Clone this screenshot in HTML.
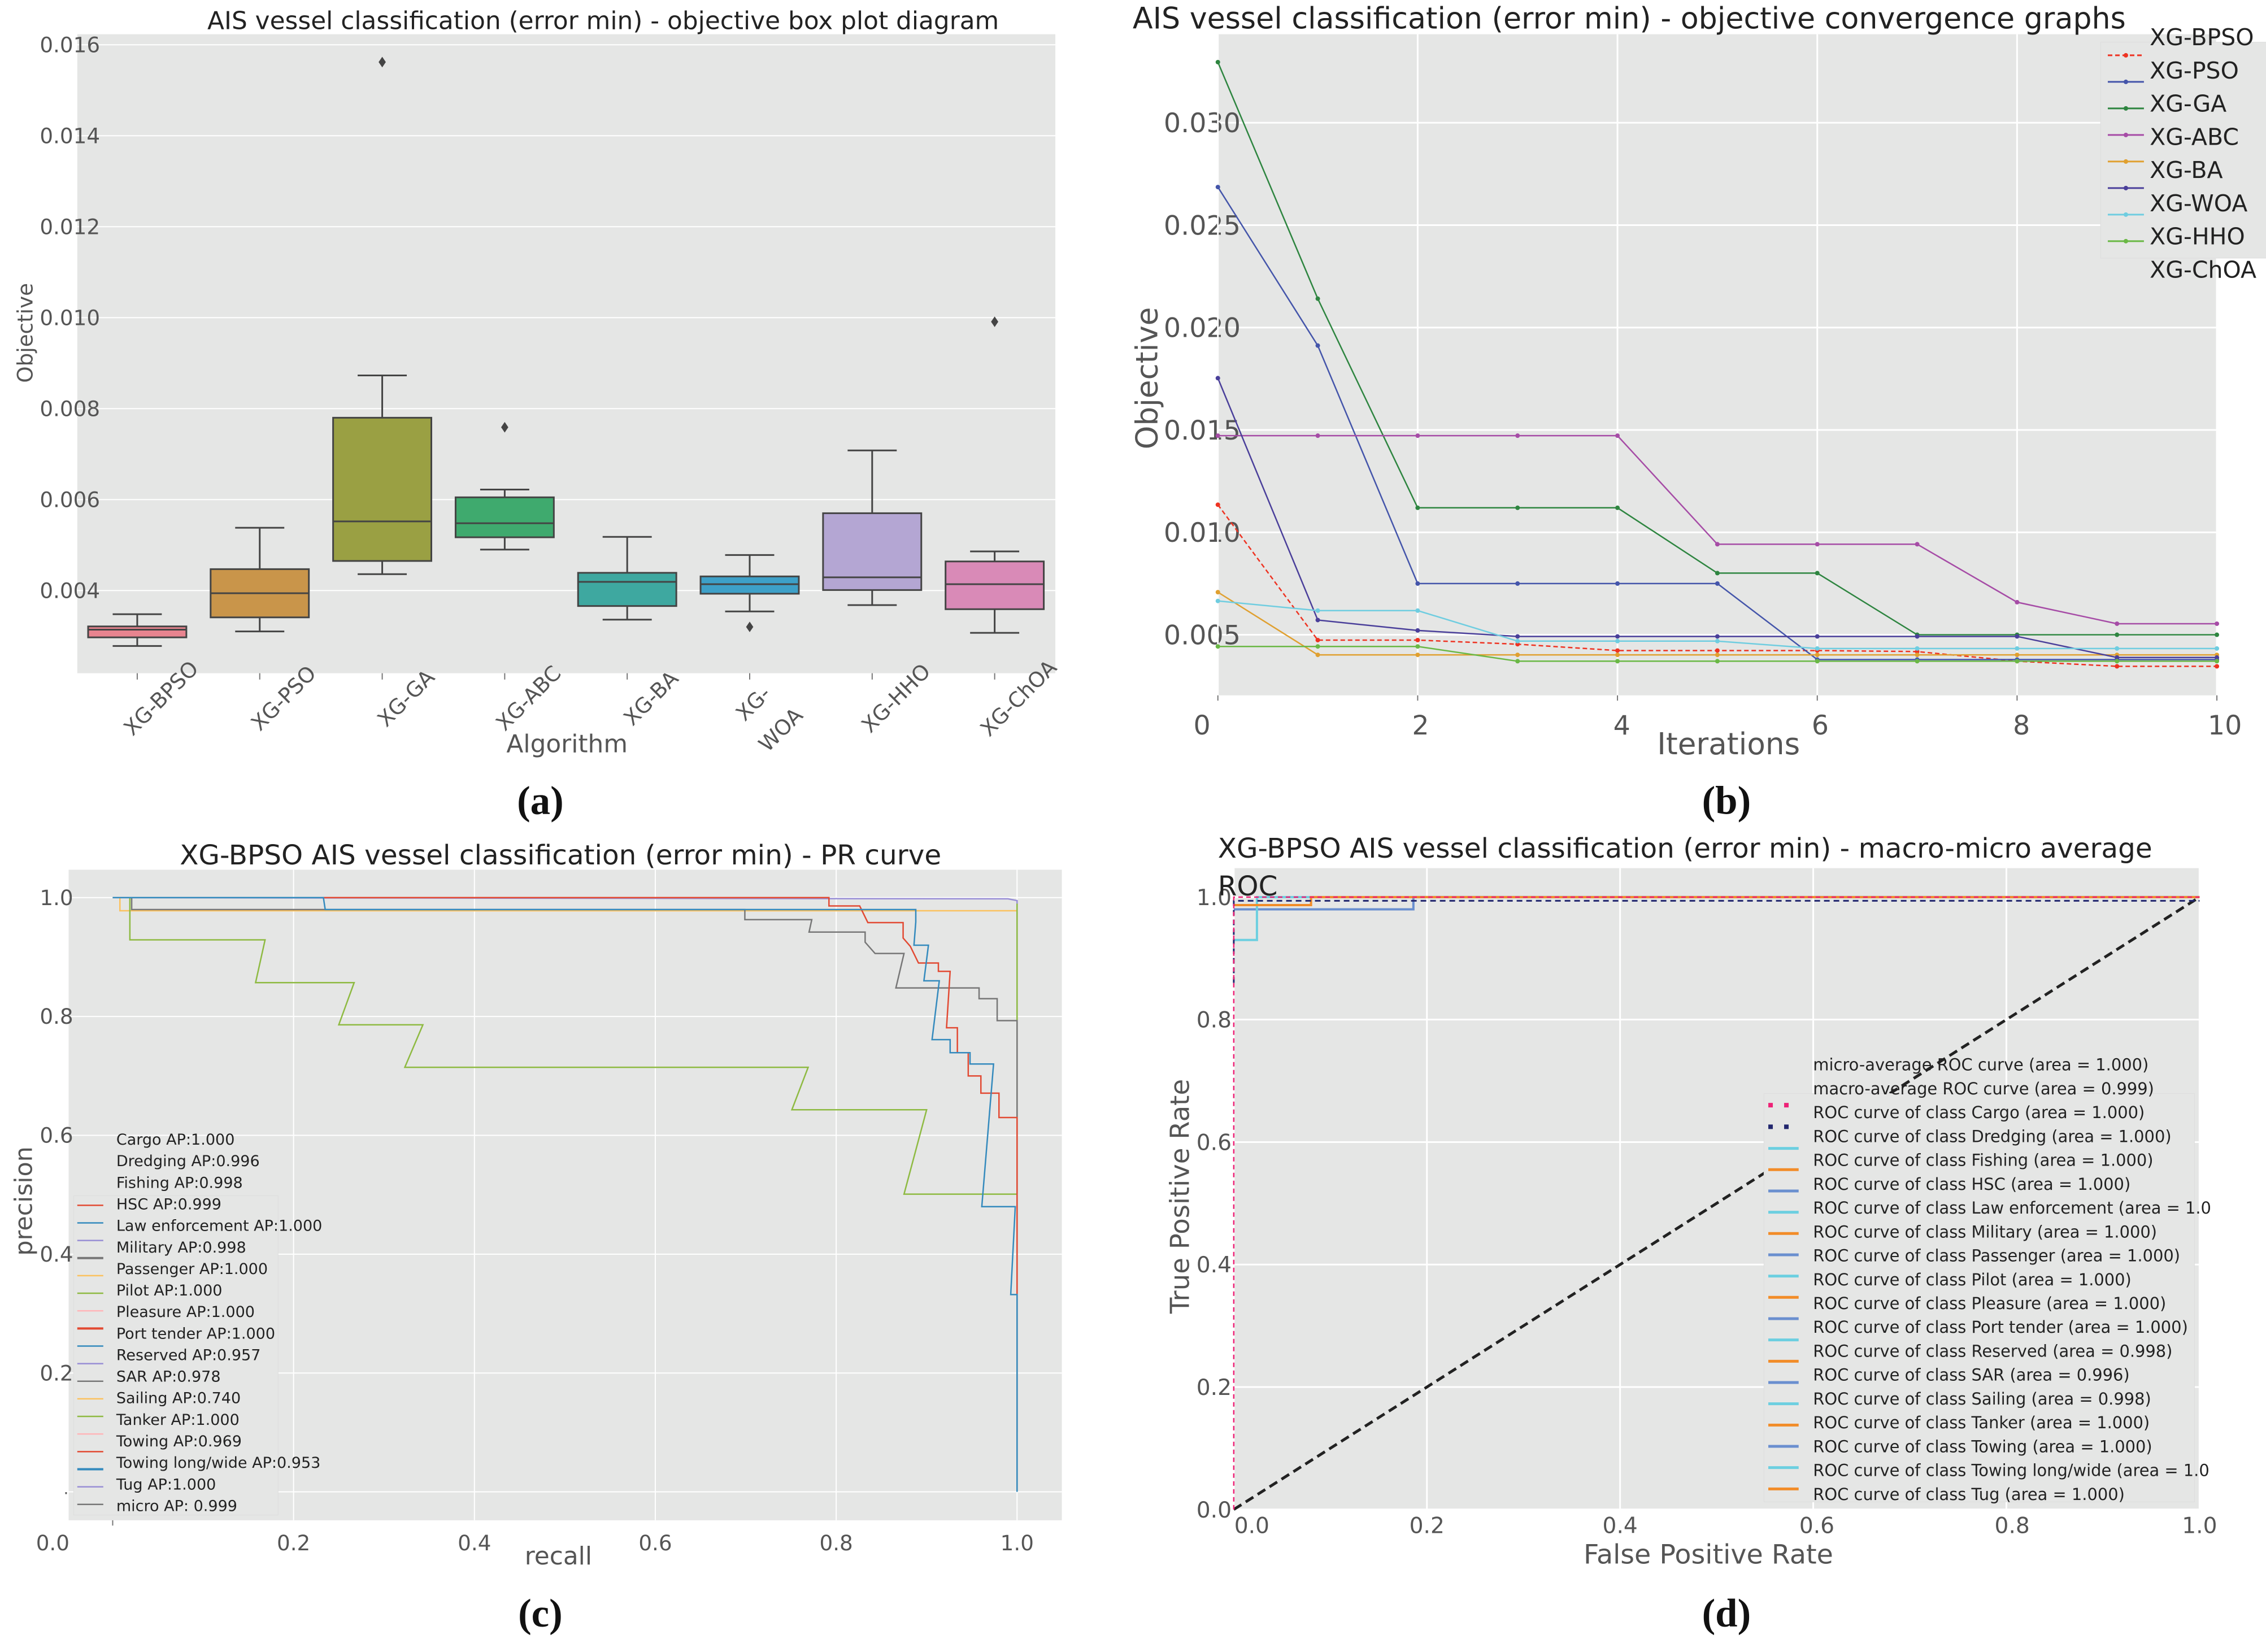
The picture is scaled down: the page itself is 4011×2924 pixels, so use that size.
<!DOCTYPE html>
<html><head><meta charset="utf-8"><style>
html,body{margin:0;padding:0;background:#fff;}
svg{display:block;}
text{font-family:"DejaVu Sans","Liberation Sans",sans-serif;}
.t{fill:#555;}
.w{font-family:"DejaVu Sans","Liberation Sans",sans-serif;}
.lab{font-family:"Liberation Serif",serif;font-weight:bold;}
</style></head><body>
<svg id="fig" width="4011" height="2924" viewBox="0 0 3137 3136" preserveAspectRatio="none" xmlns="http://www.w3.org/2000/svg"></svg>
<script>
// ---------- Panel (a) data ----------
const boxCats = ["XG-BPSO","XG-PSO","XG-GA","XG-ABC","XG-BA","XG-WOA","XG-HHO","XG-ChOA"];
const boxWhiskerLow = [0.00278,0.00310,0.00436,0.00490,0.00336,0.00354,0.00368,0.00307];
const boxQ1 = [0.00297,0.00341,0.00465,0.00517,0.00366,0.00393,0.00401,0.00359];
const boxMedian = [0.00314,0.00394,0.00552,0.00548,0.00419,0.00414,0.00429,0.00414];
const boxQ3 = [0.00321,0.00447,0.00780,0.00605,0.00439,0.00431,0.00570,0.00464];
const boxWhiskerHigh = [0.00348,0.00538,0.00873,0.00622,0.00518,0.00478,0.00708,0.00486];
const boxOutliers = [[],[],[0.01562],[0.00759],[],[0.00320],[],[0.00991]];
const boxColors = ["#e8848f","#c9954a","#9aa043","#3faa6e","#3ea8a0","#3da0c8","#b4a6d3","#d98ab7"];
const boxYTicks = [0.004,0.006,0.008,0.010,0.012,0.014,0.016];
// ---------- Panel (b) data ----------
const convIter = [0,1,2,3,4,5,6,7,8,9,10];
const convNames = ["XG-BPSO","XG-PSO","XG-GA","XG-ABC","XG-BA","XG-WOA","XG-WOA2","XG-HHO"];
const convBPSO = [0.01135,0.00474,0.00474,0.00454,0.00423,0.00423,0.00423,0.00418,0.00371,0.00346,0.00346];
const convPSO = [0.02686,0.01912,0.0075,0.0075,0.0075,0.0075,0.00379,0.00379,0.00379,0.00379,0.00379];
const convGA = [0.03296,0.02141,0.0112,0.0112,0.0112,0.00801,0.00801,0.005,0.005,0.005,0.005];
const convABC = [0.01472,0.01472,0.01472,0.01472,0.01472,0.00942,0.00942,0.00942,0.00659,0.00554,0.00554];
const convBA = [0.00708,0.00402,0.00402,0.00402,0.00402,0.00402,0.00402,0.00402,0.00402,0.00402,0.00402];
const convWOA = [0.01753,0.00572,0.00521,0.00492,0.00492,0.00492,0.00492,0.00492,0.00492,0.00389,0.00389];
const convWOA2 = [0.00665,0.00618,0.00618,0.00469,0.00469,0.00469,0.00433,0.00433,0.00433,0.00433,0.00433];
const convHHO = [0.00443,0.00443,0.00443,0.00371,0.00371,0.00371,0.00371,0.00371,0.00371,0.00371,0.00371];
const convColors = ["#ee3322","#4455aa","#2e8540","#a64ca6","#e0a030","#4a3f9a","#6fcde0","#6ab845"];
const convLegend = ["XG-BPSO","XG-PSO","XG-GA","XG-ABC","XG-BA","XG-WOA","XG-HHO","XG-ChOA"];
const convYTicks = [0.005,0.010,0.015,0.020,0.025,0.030];
const convXTicks = [0,2,4,6,8,10];
// ---------- Panel (c) data ----------
const prGreenR = [0,0.019,0.019,0.1685,0.158,0.267,0.25,0.343,0.323,0.769,0.751,0.9,0.875,1.0,1.0];
const prGreenP = [1,1,0.929,0.929,0.857,0.857,0.786,0.786,0.7145,0.7145,0.643,0.643,0.501,0.501,0.99];
const prBlueR = [0,0.233,0.235,0.888,0.888,0.886,0.902,0.897,0.914,0.906,0.926,0.926,0.948,0.948,0.974,0.961,0.998,0.993,1.0,1.0];
const prBlueP = [1,1,0.98,0.98,0.959,0.92,0.92,0.86,0.86,0.761,0.761,0.739,0.739,0.72,0.72,0.48,0.48,0.332,0.332,0.0];
const prRedR = [0,0.792,0.792,0.826,0.835,0.874,0.874,0.882,0.891,0.913,0.913,0.926,0.922,0.934,0.934,0.946,0.946,0.96,0.96,0.98,0.98,1.0,1.0];
const prRedP = [1,1,0.986,0.986,0.958,0.958,0.932,0.918,0.89,0.89,0.876,0.876,0.781,0.781,0.739,0.739,0.7,0.7,0.671,0.671,0.63,0.63,0.1];
const prGrayR = [0,0.021,0.021,0.699,0.699,0.773,0.77,0.832,0.832,0.843,0.875,0.866,0.958,0.958,0.978,0.978,1.0,1.0];
const prGrayP = [1,1,0.98,0.98,0.963,0.963,0.942,0.942,0.925,0.906,0.906,0.848,0.848,0.83,0.83,0.793,0.793,0.0];
const prOrangeR = [0.008,0.008,1.0];
const prOrangeP = [1,0.978,0.978];
const prPurpleR = [0,0.99,1.0,1.0];
const prPurpleP = [1,0.998,0.995,0.02];
const prLegend = ["Cargo AP:1.000","Dredging AP:0.996","Fishing AP:0.998","HSC AP:0.999","Law enforcement AP:1.000","Military AP:0.998","Passenger AP:1.000","Pilot AP:1.000","Pleasure AP:1.000","Port tender AP:1.000","Reserved AP:0.957","SAR AP:0.978","Sailing AP:0.740","Tanker AP:1.000","Towing AP:0.969","Towing long/wide AP:0.953","Tug AP:1.000","micro AP: 0.999"];
const prLegendColors = ["#e24a33","#348abd","#988ed5","#777777","#fbc15e","#8eba42","#ffb5b8","#e24a33","#348abd","#988ed5","#777777","#fbc15e","#8eba42","#ffb5b8","#e24a33","#348abd","#988ed5","#777777"];
const prTicks = [0.2,0.4,0.6,0.8,1.0];
// ---------- Panel (d) data ----------
const rocCyanF = [0,0.024,0.024,1.0];
const rocCyanT = [0.93,0.93,1.0,1.0];
const rocSlateF = [0,0.186,0.186,1.0];
const rocSlateT = [0.98,0.98,1.0,1.0];
const rocOrangeF = [0,0.08,0.08,1.0];
const rocOrangeT = [0.987,0.987,1.0,1.0];
const rocLegend = ["micro-average ROC curve (area = 1.000)","macro-average ROC curve (area = 0.999)","ROC curve of class Cargo (area = 1.000)","ROC curve of class Dredging (area = 1.000)","ROC curve of class Fishing (area = 1.000)","ROC curve of class HSC (area = 1.000)","ROC curve of class Law enforcement (area = 1.0","ROC curve of class Military (area = 1.000)","ROC curve of class Passenger (area = 1.000)","ROC curve of class Pilot (area = 1.000)","ROC curve of class Pleasure (area = 1.000)","ROC curve of class Port tender (area = 1.000)","ROC curve of class Reserved (area = 0.998)","ROC curve of class SAR (area = 0.996)","ROC curve of class Sailing (area = 0.998)","ROC curve of class Tanker (area = 1.000)","ROC curve of class Towing (area = 1.000)","ROC curve of class Towing long/wide (area = 1.0","ROC curve of class Tug (area = 1.000)"];
const rocTicks = [0.0,0.2,0.4,0.6,0.8,1.0];

const NS="http://www.w3.org/2000/svg";
const SX=4011/3137, SY=2924/3136;
const fig=document.getElementById('fig');
function mk(p,tag,a,txt){const e=document.createElementNS(NS,tag);
 if(tag==='text'){const x=a.x||0,y=a.y||0,r=a.rot||0;delete a.x;delete a.y;delete a.rot;
  a.transform=`translate(${x},${y}) scale(${1/SX},${1/SY}) rotate(${r}) scale(${SY})`;}
 else if(tag!=='g'){a['vector-effect']='non-scaling-stroke';}
 for(const k in a)e.setAttribute(k,a[k]);if(txt!==undefined)e.textContent=txt;p.appendChild(e);return e;}
function grp(x,y,name){const g=mk(fig,'g',{transform:`translate(${x},${y})`});


return g;}
function poly(g,xs,ys,fx,fy,st){return mk(g,'polyline',Object.assign({points:xs.map((v,i)=>fx(v)+','+fy(ys[i])).join(' '),fill:'none'},st));}
function dot(g,x,y,r,fill){return mk(g,'ellipse',{cx:x,cy:y,rx:r/SX,ry:r/SY,fill:fill});}

// ================= Panel A =================
{
const g=grp(0,0,'box-plot-panel');
const xa=i=>190+i*169.57, ya=v=>1121-(v-0.004)/0.001*86.33;
const bg=mk(g,'rect',{x:107,y:65,width:1354,height:1213,fill:'#e5e6e5'});


boxYTicks.forEach(v=>{
 mk(g,'line',{x1:107,x2:1461,y1:ya(v),y2:ya(v),stroke:'#fff','stroke-width':2});
 const t=mk(g,'text',{x:55,y:ya(v)+14,'font-size':40,class:'t'},v.toFixed(3));
 
 
});
boxCats.forEach((c,i)=>{
 const x=xa(i);
 mk(g,'line',{x1:x,x2:x,y1:1278,y2:1290,stroke:'#777','stroke-width':2});
 mk(g,'line',{x1:x,x2:x,y1:ya(boxWhiskerHigh[i]),y2:ya(boxQ3[i]),stroke:'#444','stroke-width':3});
 mk(g,'line',{x1:x,x2:x,y1:ya(boxQ1[i]),y2:ya(boxWhiskerLow[i]),stroke:'#444','stroke-width':3});
 mk(g,'line',{x1:x-34,x2:x+34,y1:ya(boxWhiskerHigh[i]),y2:ya(boxWhiskerHigh[i]),stroke:'#444','stroke-width':3});
 mk(g,'line',{x1:x-34,x2:x+34,y1:ya(boxWhiskerLow[i]),y2:ya(boxWhiskerLow[i]),stroke:'#444','stroke-width':3});
 const b=mk(g,'rect',{x:x-68,y:ya(boxQ3[i]),width:136,height:ya(boxQ1[i])-ya(boxQ3[i]),fill:boxColors[i],stroke:'#444','stroke-width':3});
 
 
 mk(g,'line',{x1:x-68,x2:x+68,y1:ya(boxMedian[i]),y2:ya(boxMedian[i]),stroke:'#444','stroke-width':3});
 boxOutliers[i].forEach(o=>{const d=mk(g,'path',{d:`M${x},${ya(o)-10} L${x+5},${ya(o)} L${x},${ya(o)+10} L${x-5},${ya(o)} Z`,fill:'#444'});
  
  });
 let t;
 if(c==='XG-WOA'){
  t=mk(g,'text',{'font-size':40,class:'t',x:x+12,y:1345,rot:-45,'text-anchor':'middle'},'XG-');
  mk(g,'text',{'font-size':40,class:'t',x:x+50,y:1395,rot:-45,'text-anchor':'middle'},'WOA');
 } else t=mk(g,'text',{'font-size':40,class:'t',x:x+40,y:1335,rot:-45,'text-anchor':'middle'},c);
 
 
});
const tt=mk(g,'text',{x:835,y:55,'font-size':47,'text-anchor':'middle',fill:'#222'},'AIS vessel classification (error min) - objective box plot diagram');


const xl=mk(g,'text',{x:785,y:1428,'font-size':47,'text-anchor':'middle',class:'t'},'Algorithm');


const yl=mk(g,'text',{x:45,y:632,rot:-90,'font-size':40,'text-anchor':'middle',class:'t w'},'Objective');


const pl=mk(g,'text',{x:748,y:1545,'font-size':76,'text-anchor':'middle',class:'lab',fill:'#111'},'(a)');


}

// ================= Panel B =================
{
const g=grp(1568,0,'convergence-panel');
const xb=i=>118+i*138.3, yb=v=>1205-(v-0.005)/0.005*194.4;
mk(g,'rect',{x:118,y:65,width:1383,height:1255,fill:'#e5e6e5'});
convYTicks.forEach(v=>{mk(g,'line',{x1:118,x2:1501,y1:yb(v),y2:yb(v),stroke:'#fff','stroke-width':3});
 const t=mk(g,'text',{x:43,y:yb(v)+18,'font-size':51,class:'t'},v.toFixed(3));
 
 });
const xoff={0:-22,2:4,4:6,6:4,8:6,10:11};
convXTicks.forEach(v=>{mk(g,'line',{x1:xb(v),x2:xb(v),y1:65,y2:1320,stroke:'#fff','stroke-width':3});
 mk(g,'line',{x1:xb(v),x2:xb(v),y1:1320,y2:1330,stroke:'#777','stroke-width':2});
 const t=mk(g,'text',{x:xb(v)+xoff[v],y:1394,'font-size':51,class:'t','text-anchor':'middle'},String(v));
 
 });
const series=[convBPSO,convPSO,convGA,convABC,convBA,convWOA,convWOA2,convHHO];
series.forEach((s,k)=>{
 const l=poly(g,convIter,s,xb,yb,{stroke:convColors[k],'stroke-width':2.5,'stroke-dasharray':k===0?'8,5':'none'});
 
 
 convIter.forEach((it,j)=>{const c=dot(g,xb(it),yb(s[j]),4,convColors[k]);
  
  });
});
const lg=mk(g,'g',{});


mk(lg,'rect',{x:1340,y:80,width:230,height:410,fill:'#e5e6e5',stroke:'#ddd'});
convLegend.forEach((n,i)=>{const t=mk(lg,'text',{x:1408,y:86+i*63,'font-size':44,fill:'#222'},n);
 
 });
convColors.forEach((c,i)=>{mk(lg,'line',{x1:1350,x2:1400,y1:105+i*50.4,y2:105+i*50.4,stroke:c,'stroke-width':3,'stroke-dasharray':i===0?'8,5':'none'});
 dot(lg,1375,105+i*50.4,4,c);});
const tt=mk(g,'text',{x:0,y:54,'font-size':56,fill:'#222'},'AIS vessel classification (error min) - objective convergence graphs');


const xl=mk(g,'text',{x:825,y:1432,'font-size':57,'text-anchor':'middle',class:'t'},'Iterations');


const yl=mk(g,'text',{x:34,y:718,rot:-90,'font-size':57,'text-anchor':'middle',class:'t w'},'Objective');


const pl=mk(g,'text',{x:822,y:1545,'font-size':76,'text-anchor':'middle',class:'lab',fill:'#111'},'(b)');


}

// ================= Panel C =================
{
const g=grp(0,1568,'pr-curve-panel');
const xc=r=>156+r*1252, yc=p=>1264-p*1128;
mk(g,'rect',{x:95,y:83,width:1375,height:1235,fill:'#e5e6e5'});
prTicks.forEach(v=>{mk(g,'line',{x1:xc(v),x2:xc(v),y1:83,y2:1318,stroke:'#fff','stroke-width':2});
 mk(g,'line',{x1:95,x2:1470,y1:yc(v),y2:yc(v),stroke:'#fff','stroke-width':2});
 const tx=mk(g,'text',{x:xc(v),y:1375,'font-size':40,class:'t','text-anchor':'middle'},v.toFixed(1));
 
 
 const ty=mk(g,'text',{x:55,y:yc(v)+14,'font-size':40,class:'t'},v.toFixed(1));
 
 });
mk(g,'line',{x1:95,x2:1470,y1:yc(0),y2:yc(0),stroke:'#fff','stroke-width':2});
mk(g,'text',{x:73,y:1375,'font-size':40,class:'t','text-anchor':'middle'},'0.0');
mk(g,'text',{x:88,y:1268,'font-size':30,class:'t'},'.');
mk(g,'line',{x1:156,x2:156,y1:1318,y2:1328,stroke:'#777','stroke-width':2});
const curves=[[prOrangeR,prOrangeP,'#fbc15e','pr-sailing'],[prPurpleR,prPurpleP,'#988ed5','pr-military'],[prGreenR,prGreenP,'#8eba42','pr-pilot'],[prGrayR,prGrayP,'#777777','pr-sar'],[prRedR,prRedP,'#e24a33','pr-towing'],[prBlueR,prBlueP,'#348abd','pr-reserved']];
curves.forEach(c=>{const l=poly(g,c[0],c[1],xc,yc,{stroke:c[2],'stroke-width':2.5});
 
 });
const lg=mk(g,'g',{});


mk(lg,'rect',{x:102,y:702,width:283,height:606,fill:'#e5e6e5',stroke:'#ddd'});
prLegend.forEach((n,i)=>{const t=mk(lg,'text',{x:161,y:605+i*40.9,'font-size':29,fill:'#222'},n);
 
 
 mk(lg,'line',{x1:107,x2:143,y1:720+i*33.4,y2:720+i*33.4,stroke:prLegendColors[i],'stroke-width':(i===3||i===7||i===15)?4:2.5});});
const tt=mk(g,'text',{x:776,y:73,'font-size':52,'text-anchor':'middle',fill:'#222'},'XG-BPSO AIS vessel classification (error min) - PR curve');


const xl=mk(g,'text',{x:773,y:1402,'font-size':47,'text-anchor':'middle',class:'t'},'recall');


const yl=mk(g,'text',{x:44,y:712,rot:-90,'font-size':46,'text-anchor':'middle',class:'t w'},'precision');


const pl=mk(g,'text',{x:748,y:1520,'font-size':76,'text-anchor':'middle',class:'lab',fill:'#111'},'(c)');


}

// ================= Panel D =================
{
const g=grp(1568,1568,'roc-curve-panel');
const xd=f=>140+f*1337, yd=t=>1297.5-t*1162.5;
mk(g,'rect',{x:140,y:80,width:1337,height:1216,fill:'#e5e6e5'});
const xoff={0:25,0.2:0,0.4:0,0.6:5,0.8:8,1:0};
rocTicks.forEach(v=>{mk(g,'line',{x1:xd(v),x2:xd(v),y1:80,y2:1296,stroke:'#fff','stroke-width':3});
 mk(g,'line',{x1:140,x2:1477,y1:yd(v),y2:yd(v),stroke:'#fff','stroke-width':3});
 const tx=mk(g,'text',{x:xd(v)+(xoff[v]||0),y:1342,'font-size':42,class:'t','text-anchor':'middle'},v.toFixed(1));
 
 
 const ty=mk(g,'text',{x:137,y:yd(v)+15,'font-size':42,class:'t','text-anchor':'end'},v.toFixed(1));
 
 });
const diag=mk(g,'line',{x1:xd(0),y1:yd(0),x2:xd(1),y2:yd(1),stroke:'#222','stroke-width':5,'stroke-dasharray':'16,9'});


[[rocSlateF,rocSlateT,'#6a8fcf','roc-sar'],[rocCyanF,rocCyanT,'#6ccfe0','roc-sailing'],[rocOrangeF,rocOrangeT,'#f28c28','roc-reserved']].forEach(c=>{
 const l=poly(g,c[0],c[1],xd,yd,{stroke:c[2],'stroke-width':4});
 
 });
const nv=mk(g,'polyline',{points:`${xd(0)},${yd(0.86)} ${xd(0)},${yd(0.994)} ${xd(1)},${yd(0.994)}`,fill:'none',stroke:'#22276e','stroke-width':3,'stroke-dasharray':'10,7'});


const mv=mk(g,'polyline',{points:`${xd(0)},${yd(0)} ${xd(0)},${yd(1)} ${xd(1)},${yd(1)}`,fill:'none',stroke:'#ee2277','stroke-width':2.5,'stroke-dasharray':'8,6'});


const lg=mk(g,'g',{});


mk(lg,'rect',{x:874,y:508,width:596,height:775,fill:'#e5e6e5',stroke:'#ddd'});
rocLegend.forEach((n,i)=>{const t=mk(lg,'text',{x:942,y:464+i*45.3,'font-size':31,fill:'#222'},n);
 
 });
mk(lg,'line',{x1:880,x2:916,y1:530,y2:530,stroke:'#ee2277','stroke-width':8,'stroke-dasharray':'8,20'});
mk(lg,'line',{x1:880,x2:916,y1:571,y2:571,stroke:'#22276e','stroke-width':8,'stroke-dasharray':'8,20'});
const lc=['#6ccfe0','#f28c28','#6a8fcf'];
for(let i=0;i<17;i++) mk(lg,'line',{x1:880,x2:922,y1:612+i*40.4,y2:612+i*40.4,stroke:lc[i%3],'stroke-width':5});
const tt=mk(g,'text',{x:118,y:60,'font-size':52,fill:'#222'},'XG-BPSO AIS vessel classification (error min) - macro-micro average');


mk(g,'text',{x:118,y:132,'font-size':52,fill:'#222'},'ROC');
const xl=mk(g,'text',{x:797,y:1400,'font-size':51,'text-anchor':'middle',class:'t'},'False Positive Rate');


const yl=mk(g,'text',{x:78,y:703,rot:-90,'font-size':50,'text-anchor':'middle',class:'t w'},'True Positive Rate');


const pl=mk(g,'text',{x:822,y:1520,'font-size':76,'text-anchor':'middle',class:'lab',fill:'#111'},'(d)');


}
</script>
</body></html>
